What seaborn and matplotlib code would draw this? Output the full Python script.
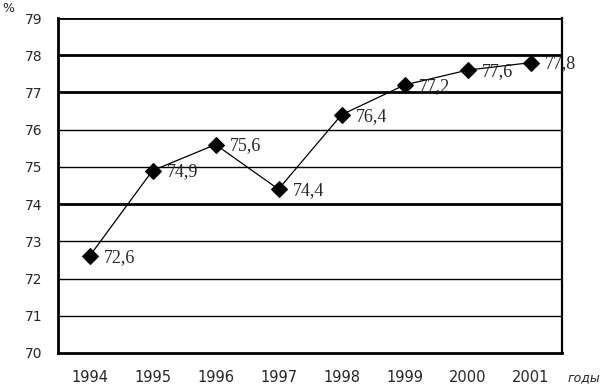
import matplotlib
matplotlib.use("Agg")
import matplotlib.pyplot as plt
import seaborn as sns
import pandas as pd

# dados
anos = ["1994", "1995", "1996", "1997", "1998", "1999", "2000", "2001"]
valores = [72.6, 74.9, 75.6, 74.4, 76.4, 77.2, 77.6, 77.8]
rotulos = ["72,6", "74,9", "75,6", "74,4", "76,4", "77,2", "77,6", "77,8"]
y_ticks = [70, 71, 72, 73, 74, 75, 76, 77, 78, 79]
linhas_grossas = [74, 77, 78, 79]

df = pd.DataFrame({"ano": anos, "valor": valores})

sns.set_style("white")
plt.rcParams["font.family"] = ["DejaVu Sans"]

fig = plt.figure(figsize=(6.04, 3.89), dpi=100)
ax = fig.add_axes([58 / 604, 36 / 389, 504 / 604, 335 / 389])

# linhas de grade horizontais
for y in y_ticks[1:]:
    lw = 2.0 if y in linhas_grossas else 1.0
    ax.axhline(y, color="black", lw=lw, zorder=1)

sns.lineplot(data=df, x="ano", y="valor", ax=ax, color="black", lw=0.9,
             marker="D", markersize=8, markeredgecolor="black", zorder=3)

for i, (v, r) in enumerate(zip(valores, rotulos)):
    ax.annotate(r, (i, v), xytext=(10, -1), textcoords="offset points",
                ha="left", va="center", fontsize=13, family="Liberation Serif",
                zorder=4)

ax.set_xlim(-0.5, 7.5)
ax.set_ylim(70, 79)
ax.set_yticks(y_ticks)
ax.set_yticklabels([str(y) for y in y_ticks], fontsize=10)
ax.set_xticks(range(len(anos)))
ax.set_xticklabels(anos, fontsize=10.5)
ax.set_xticks([i - 0.5 for i in range(len(anos) + 1)], minor=True)
ax.tick_params(axis="x", which="major", length=0, pad=12)
ax.tick_params(axis="x", which="minor", length=5, width=1.5, direction="out")
ax.tick_params(axis="y", length=5, width=1.2, direction="out", pad=6)
ax.set_xlabel("")
ax.set_ylabel("")

for lado in ["left", "bottom"]:
    ax.spines[lado].set_linewidth(2.0)
    ax.spines[lado].set_color("black")
ax.spines["right"].set_linewidth(1.6)
ax.spines["right"].set_color("black")
ax.spines["top"].set_visible(False)

fig.text(2 / 604, 1 - 8 / 389, "%", fontsize=9, va="center", ha="left")
fig.text(568 / 604, 1 - 378 / 389, "годы", fontsize=9, style="italic",
         va="center", ha="left")

fig.savefig("out.png", dpi=100)
plt.close(fig)
